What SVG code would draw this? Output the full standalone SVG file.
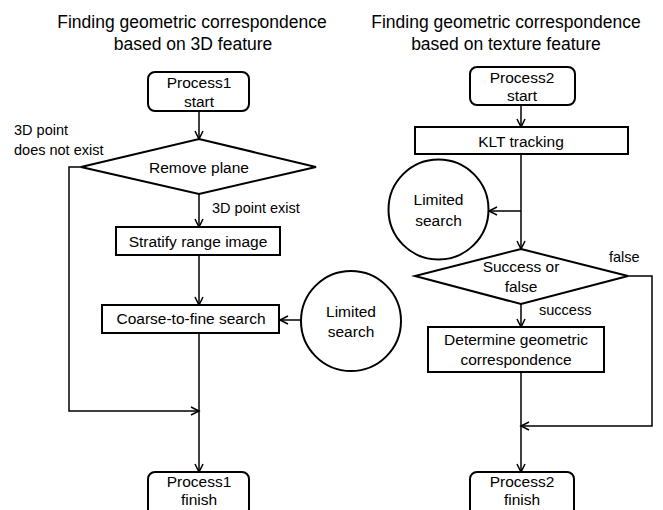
<svg xmlns="http://www.w3.org/2000/svg" width="663" height="510" viewBox="0 0 663 510">
<style>
text{font-family:"Liberation Sans",Arial,sans-serif;fill:#000;text-anchor:middle}
.title{font-size:17.5px}
.t{font-size:15.5px}
.lbl{font-size:14.5px;text-anchor:start}
.shape{fill:#fff;stroke:#000;stroke-width:2}
.conn{fill:none;stroke:#000;stroke-width:1.5}
</style>
<defs>
<marker id="arr" markerUnits="userSpaceOnUse" markerWidth="12" markerHeight="12" refX="9" refY="5" orient="auto">
<path d="M1,1 L9,5 L1,9" fill="none" stroke="#000" stroke-width="1.5"/>
</marker>
</defs>
<rect width="663" height="510" fill="#fff"/>
<g id="titles">
<text class="title" x="192" y="28">Finding geometric correspondence</text>
<text class="title" x="193" y="50">based on 3D feature</text>
<text class="title" x="506" y="28">Finding geometric correspondence</text>
<text class="title" x="506" y="50">based on texture feature</text>
</g>
<g id="connectors">
<line class="conn" x1="199" y1="111" x2="199" y2="139" marker-end="url(#arr)"/>
<line class="conn" x1="199" y1="194" x2="199" y2="227" marker-end="url(#arr)"/>
<line class="conn" x1="199" y1="255" x2="199" y2="305" marker-end="url(#arr)"/>
<line class="conn" x1="301" y1="320" x2="280" y2="320" marker-end="url(#arr)"/>
<polyline class="conn" points="81,167 69,167 69,411 199,411" marker-end="url(#arr)"/>
<line class="conn" x1="199" y1="333" x2="199" y2="472" marker-end="url(#arr)"/>
<line class="conn" x1="521" y1="105" x2="521" y2="127" marker-end="url(#arr)"/>
<line class="conn" x1="521" y1="154" x2="521" y2="249" marker-end="url(#arr)"/>
<line class="conn" x1="521" y1="211" x2="489" y2="211" marker-end="url(#arr)"/>
<line class="conn" x1="521" y1="304" x2="521" y2="327" marker-end="url(#arr)"/>
<polyline class="conn" points="628,276 652,276 652,426 521,426" marker-end="url(#arr)"/>
<line class="conn" x1="521" y1="372" x2="521" y2="472" marker-end="url(#arr)"/>
</g>
<g id="labels">
<text class="lbl" x="14" y="135">3D point</text>
<text class="lbl" x="14" y="155">does not exist</text>
<text class="lbl" x="212" y="213">3D point exist</text>
<text class="lbl" x="609" y="262">false</text>
<text class="lbl" x="539" y="315">success</text>
</g>
<g id="p1start">
<rect class="shape" x="148" y="72" width="101" height="39" rx="7"/>
<text class="t" x="199" y="88">Process1</text>
<text class="t" x="199" y="107">start</text>
</g>
<g id="removeplane">
<polygon class="shape" points="199,139 316,167 199,194 81,167"/>
<text class="t" x="199" y="173">Remove plane</text>
</g>
<g id="stratify">
<rect class="shape" x="116" y="227" width="164" height="28"/>
<text class="t" x="198" y="247">Stratify range image</text>
</g>
<g id="coarse">
<rect class="shape" x="102" y="305" width="177" height="28"/>
<text class="t" x="191" y="324">Coarse-to-fine search</text>
</g>
<g id="limited1">
<circle class="shape" cx="351" cy="321" r="50"/>
<text class="t" x="351" y="317">Limited</text>
<text class="t" x="351" y="337">search</text>
</g>
<g id="p1finish">
<rect class="shape" x="148" y="472" width="101" height="44" rx="7"/>
<text class="t" x="199" y="487">Process1</text>
<text class="t" x="199" y="505">finish</text>
</g>
<g id="p2start">
<rect class="shape" x="470" y="67" width="105" height="38" rx="7"/>
<text class="t" x="522" y="83">Process2</text>
<text class="t" x="522" y="101">start</text>
</g>
<g id="klt">
<rect class="shape" x="415" y="127" width="213" height="27"/>
<text class="t" x="521" y="147">KLT tracking</text>
</g>
<g id="limited2">
<circle class="shape" cx="438.5" cy="209.5" r="50"/>
<text class="t" x="438.5" y="205">Limited</text>
<text class="t" x="438.5" y="226">search</text>
</g>
<g id="success">
<polygon class="shape" points="521,249 628,276 521,304 415,276"/>
<text class="t" x="521" y="272">Success or</text>
<text class="t" x="521" y="292">false</text>
</g>
<g id="determine">
<rect class="shape" x="428" y="327" width="176" height="45"/>
<text class="t" x="516" y="345">Determine geometric</text>
<text class="t" x="516" y="365">correspondence</text>
</g>
<g id="p2finish">
<rect class="shape" x="470" y="472" width="104" height="44" rx="7"/>
<text class="t" x="522" y="487">Process2</text>
<text class="t" x="522" y="505">finish</text>
</g>
</svg>
